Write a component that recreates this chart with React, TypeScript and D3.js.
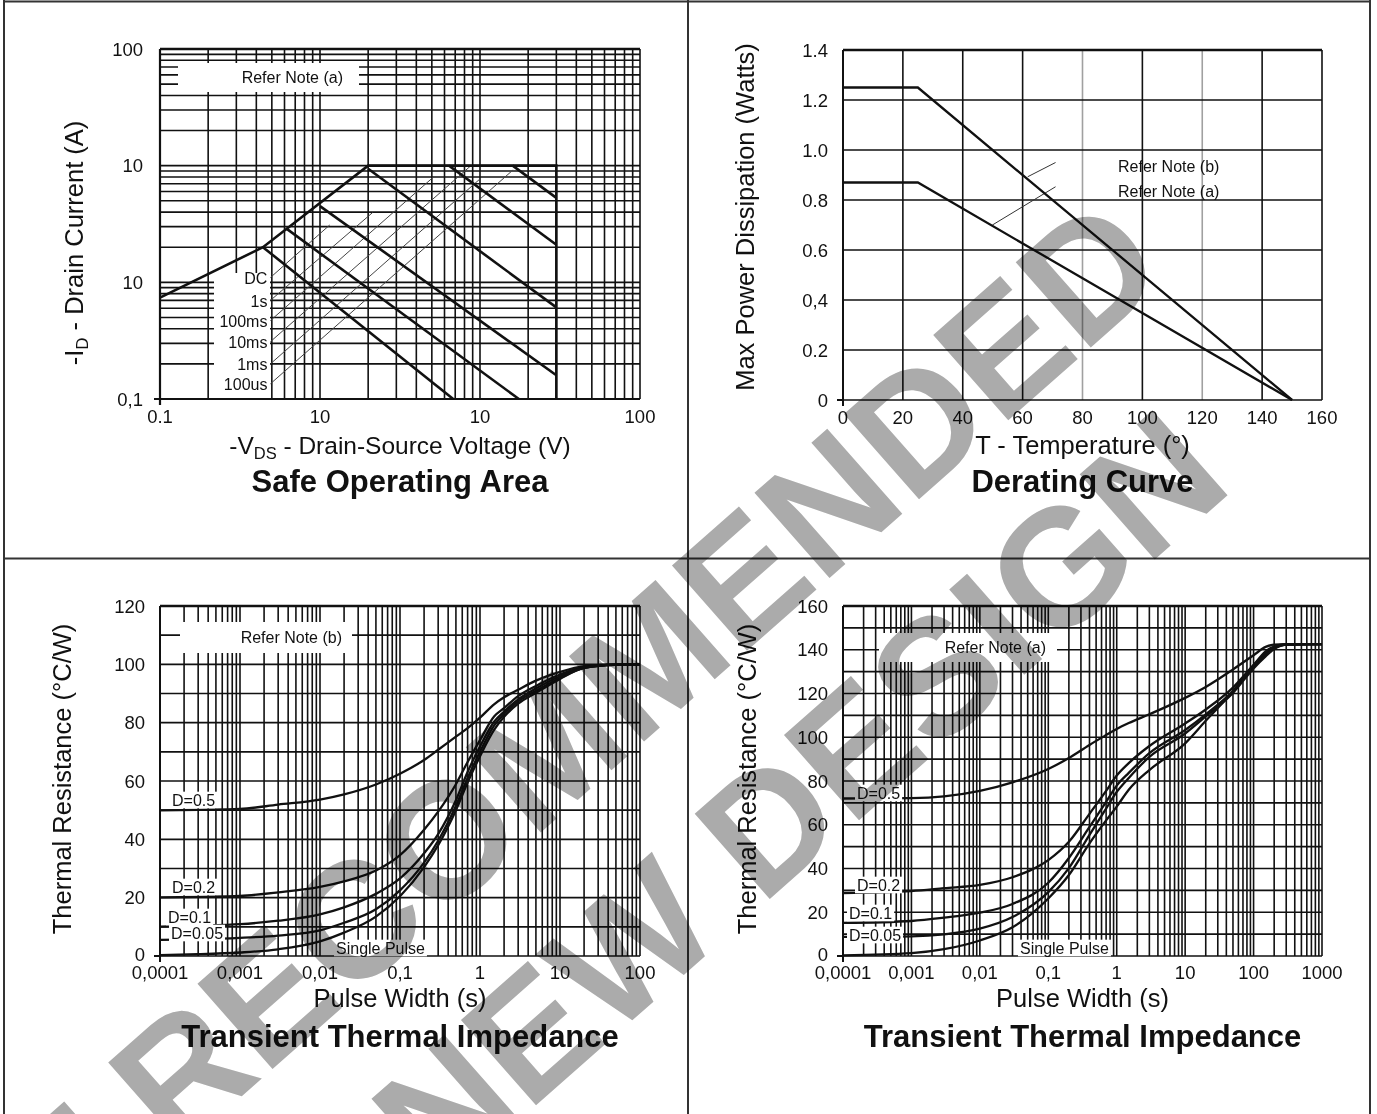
import React from "react";
import * as d3 from "d3";

type Pt = [number, number];

// ---- Safe Operating Area (log / log) ----
const soaDecades = [0.1, 1, 10, 100];
const soaXTickText = ["0.1", "10", "10", "100"];
const soaYTickText = ["0,1", "10", "10", "100"];
const soaOutline: Pt[] = [[0.1, 0.74], [0.44, 2.0], [2.0, 10], [30, 10], [30, 0.1]];
const soaPulseNames = ["DC", "1s", "100ms", "10ms", "1ms", "100us"];
const soaPulseLimits: Pt[][] = [
  [[0.44, 2.0], [6.8, 0.1]],
  [[0.62, 2.87], [17.5, 0.1]],
  [[1.0, 4.5], [30, 0.16]],
  [[2.0, 9.4], [30, 0.61]],
  [[6.4, 10], [30, 2.1]],
  [[16, 10], [30, 5.3]],
];
const soaLeaders: Pt[][] = [
  [[0.49, 1.1], [1.15, 3.1]],
  [[0.49, 0.7], [2.13, 3.96]],
  [[0.49, 0.47], [5.1, 7.96]],
  [[0.49, 0.31], [8.7, 9.9]],
  [[0.49, 0.2], [10, 7.7]],
  [[0.49, 0.135], [16.1, 9.2]],
];

// ---- Derating curve ----
const deratingTemps = [0, 20, 40, 60, 80, 100, 120, 140, 160];
const deratingGreyTemps = [80, 120];
const deratingWatts = [0, 0.2, 0.4, 0.6, 0.8, 1.0, 1.2, 1.4];
const deratingWattText = ["0", "0.2", "0,4", "0.6", "0.8", "1.0", "1.2", "1.4"];
const deratingNoteB: Pt[] = [[0, 1.25], [25, 1.25], [150, 0]];
const deratingNoteA: Pt[] = [[0, 0.87], [25, 0.87], [150, 0]];
const deratingLeaderB: Pt[] = [[71, 0.95], [61.7, 0.893]];
const deratingLeaderA: Pt[] = [[71, 0.853], [49.9, 0.7]];

// ---- Transient thermal impedance, note (b) ----
const dutyNames = ["D=0.5", "D=0.2", "D=0.1", "D=0.05", "Single Pulse"];
const pulseDecadesB = [1e-4, 1e-3, 0.01, 0.1, 1, 10, 100];
const pulseTextB = ["0,0001", "0,001", "0,01", "0,1", "1", "10", "100"];
const resistanceTicksB = [0, 20, 40, 60, 80, 100, 120];
const pulseWidthsB = [1e-4, 3e-4, 1e-3, 3e-3, 0.01, 0.02, 0.05, 0.1, 0.2, 0.3, 0.5, 0.7, 1, 1.5, 2, 3, 5, 10, 20, 50, 100];
const impedanceB_D05 = [49.9, 50.1, 50.4, 51.9, 53.6, 55.4, 58.8, 62.5, 67.2, 70.7, 75.2, 78.1, 81.7, 86.3, 88.7, 91.3, 94.4, 97.4, 99.4, 100, 100];
const impedanceB_D02 = [20.1, 20.3, 20.6, 21.8, 23.7, 25.6, 29.3, 34.6, 43.3, 49.5, 58.9, 66.5, 74, 82.1, 85, 89.1, 92.6, 96.5, 99.1, 99.9, 100];
const impedanceB_D01 = [10.1, 10.4, 10.9, 12.1, 14.3, 16.7, 21.3, 26.6, 35.2, 41.8, 53.4, 63.1, 71.8, 80.3, 83.8, 88, 91.7, 95.9, 98.8, 99.8, 100];
const impedanceB_D005 = [5.5, 5.7, 6.2, 7.0, 8.8, 11.4, 16, 22.5, 32, 39.5, 51.5, 61, 70, 79, 83, 87.3, 90.9, 95.3, 98.8, 99.9, 100];
const impedanceB_Single = [0.3, 0.6, 1.2, 2.3, 5, 8, 13.5, 20.5, 30.5, 38, 50, 59.5, 68.5, 77.5, 82, 86.5, 90.2, 95, 98.8, 99.8, 100];

// ---- Transient thermal impedance, note (a) ----
const pulseDecadesA = [1e-4, 1e-3, 0.01, 0.1, 1, 10, 100, 1000];
const pulseTextA = ["0,0001", "0,001", "0,01", "0,1", "1", "10", "100", "1000"];
const resistanceTicksA = [0, 20, 40, 60, 80, 100, 120, 140, 160];
const pulseWidthsA = [1e-4, 1e-3, 0.003, 0.01, 0.03, 0.1, 0.2, 0.4, 0.7, 1, 1.5, 3, 10, 20, 50, 100, 150, 200, 300, 1000];
const impedanceA_D05 = [72, 72.2, 73, 75.5, 79.4, 85.5, 90.5, 96.5, 101, 103.8, 106.5, 110.5, 118, 123, 131, 137.5, 141.3, 142.3, 142.6, 142.6];
const impedanceA_D02 = [28.8, 29.7, 31, 32.5, 36, 43.8, 52.2, 65, 75.5, 82.5, 88.2, 96, 106.3, 112.7, 122.7, 133, 138.5, 141, 142.4, 142.6];
const impedanceA_D01 = [15.1, 16, 17.5, 19.8, 23.8, 33.5, 44.8, 59, 70.5, 77.9, 83.7, 92.7, 103.3, 110.5, 121.1, 132.3, 137.7, 140.8, 142.3, 142.6];
const impedanceA_D005 = [8.7, 9, 9.9, 12.5, 17.8, 29.2, 40.2, 55.4, 67.4, 75, 81.4, 91, 101.7, 109.5, 120.3, 131.5, 137, 140.3, 142.3, 142.6];
const impedanceA_Single = [0.3, 1.3, 3.1, 7.1, 13.1, 26.3, 37, 51.5, 62, 68.3, 76, 85, 97.2, 107.5, 121, 133, 139.3, 141.5, 142.5, 142.6];

const FONT = "'Liberation Sans', Arial, Helvetica, sans-serif";
const INK = "#111";
const GRID_W = 1.6;
const CURVE_W = 2.6;
const SMALL = 16;
const TICK = 18.5;
const AXIS = 25.5;
const TITLE = 31;

function textWidth(s: string, size: number, weight = "normal") {
  const ctx = document.createElement("canvas").getContext("2d");
  if (!ctx) return s.length * size * 0.55;
  ctx.font = `${weight} ${size}px ${FONT}`;
  return ctx.measureText(s).width;
}

function BoxedLabel({ x, y, text, size = SMALL }: { x: number; y: number; text: string; size?: number }) {
  const w = textWidth(text, size);
  return (
    <g>
      <rect x={x - 2} y={y - size * 0.52} width={w + 4} height={size * 1.04} fill="#fff" />
      <text x={x} y={y} dominantBaseline="central" fontSize={size} fill={INK}>{text}</text>
    </g>
  );
}

function SoaChart() {
  const left = 160, right = 640, top = 49, bottom = 399;
  const x = d3.scaleLog().domain([0.1, 100]).range([left, right]);
  const y = d3.scaleLog().domain([0.1, 100]).range([bottom, top]);
  const line = d3.line<Pt>().x(d => x(d[0])).y(d => y(d[1]));
  return (
    <g>
      {x.ticks().map((v, i) => (
        <line key={"v" + i} x1={x(v)} x2={x(v)} y1={bottom} y2={top} stroke={INK} strokeWidth={GRID_W} />
      ))}
      {y.ticks().map((v, i) => (
        <line key={"h" + i} x1={left} x2={right} y1={y(v)} y2={y(v)} stroke={INK} strokeWidth={GRID_W} />
      ))}
      <line x1={left} x2={right} y1={bottom} y2={bottom} stroke={INK} strokeWidth={2.2} />
      <line x1={left} x2={left} y1={bottom + 6} y2={top} stroke={INK} strokeWidth={2.2} />
      <line x1={left - 6} x2={left} y1={bottom} y2={bottom} stroke={INK} strokeWidth={2} />
      <line x1={left} x2={right} y1={top} y2={top} stroke={INK} strokeWidth={2.4} />

      <rect x={left + 18} y={top + 14} width={181} height={29} fill="#fff" />
      <text x={left + 183} y={top + 28.5} textAnchor="end" dominantBaseline="central" fontSize={SMALL} fill={INK}>Refer Note (a)</text>
      <rect x={left + 54} y={273} width={56} height={bottom - 274} fill="#fff" />

      {soaLeaders.map((d, i) => (
        <path key={"l" + i} d={line(d) || ""} fill="none" stroke="#444" strokeWidth={1} />
      ))}
      {soaPulseLimits.map((d, i) => (
        <path key={"p" + i} d={line(d) || ""} fill="none" stroke={INK} strokeWidth={CURVE_W} />
      ))}
      <path d={line(soaOutline) || ""} fill="none" stroke={INK} strokeWidth={CURVE_W} strokeLinejoin="miter" />
      {soaPulseNames.map((n, i) => (
        <text key={"n" + i} x={x(soaLeaders[i][0][0]) - 3} y={y(soaLeaders[i][0][1]) + 1} textAnchor="end"
          dominantBaseline="central" fontSize={SMALL} fill={INK}>{n}</text>
      ))}

      {soaDecades.map((v, i) => (
        <text key={"xt" + i} x={x(v)} y={bottom + 24} textAnchor="middle" fontSize={TICK} fill={INK}>{soaXTickText[i]}</text>
      ))}
      {soaDecades.map((v, i) => (
        <text key={"yt" + i} x={left - 17} y={y(v)} textAnchor="end" dominantBaseline="central" fontSize={TICK} fill={INK}>{soaYTickText[i]}</text>
      ))}
      <text transform="translate(83,243) rotate(-90)" textAnchor="middle" fontSize={AXIS} fill={INK}>
        -I<tspan fontSize={17} dy={5}>D</tspan><tspan dy={-5}> - Drain Current (A)</tspan>
      </text>
      <text x={(left + right) / 2} y={454} textAnchor="middle" fontSize={24.5} fill={INK}>
        -V<tspan fontSize={16.5} dy={5}>DS</tspan><tspan dy={-5}> - Drain-Source Voltage (V)</tspan>
      </text>
      <text x={(left + right) / 2} y={492} textAnchor="middle" fontSize={TITLE} fontWeight="bold" fill={INK}>Safe Operating Area</text>
    </g>
  );
}

function DeratingChart() {
  const left = 843, right = 1322, top = 50, bottom = 400;
  const x = d3.scaleLinear().domain([0, 160]).range([left, right]);
  const y = d3.scaleLinear().domain([0, 1.4]).range([bottom, top]);
  const line = d3.line<Pt>().x(d => x(d[0])).y(d => y(d[1]));
  return (
    <g>
      {deratingTemps.map((t, i) => (
        <line key={"v" + i} x1={x(t)} x2={x(t)} y1={bottom} y2={top}
          stroke={deratingGreyTemps.includes(t) ? "#a0a0a0" : INK} strokeWidth={GRID_W} />
      ))}
      {deratingWatts.map((w, i) => (
        <line key={"h" + i} x1={left} x2={right} y1={y(w)} y2={y(w)} stroke={INK} strokeWidth={i === deratingWatts.length - 1 ? 2.6 : GRID_W} />
      ))}
      <line x1={left} x2={left} y1={bottom + 6} y2={top} stroke={INK} strokeWidth={2} />
      <line x1={left - 6} x2={left} y1={bottom} y2={bottom} stroke={INK} strokeWidth={2} />
      <path d={line(deratingLeaderB) || ""} fill="none" stroke="#333" strokeWidth={1} />
      <path d={line(deratingLeaderA) || ""} fill="none" stroke="#333" strokeWidth={1} />
      <path d={line(deratingNoteB) || ""} fill="none" stroke={INK} strokeWidth={2.3} />
      <path d={line(deratingNoteA) || ""} fill="none" stroke={INK} strokeWidth={2.3} />
      <text x={1118} y={166} dominantBaseline="central" fontSize={SMALL} fill={INK}>Refer Note (b)</text>
      <text x={1118} y={191} dominantBaseline="central" fontSize={SMALL} fill={INK}>Refer Note (a)</text>

      {deratingTemps.map((t, i) => (
        <text key={"xt" + i} x={x(t)} y={bottom + 24} textAnchor="middle" fontSize={TICK} fill={INK}>{t}</text>
      ))}
      {deratingWatts.map((w, i) => (
        <text key={"yt" + i} x={left - 15} y={y(w)} textAnchor="end" dominantBaseline="central" fontSize={TICK} fill={INK}>{deratingWattText[i]}</text>
      ))}
      <text transform="translate(754,217) rotate(-90)" textAnchor="middle" fontSize={AXIS} fill={INK}>Max Power Dissipation (Watts)</text>
      <text x={(left + right) / 2} y={454} textAnchor="middle" fontSize={AXIS} fill={INK}>T - Temperature (°)</text>
      <text x={(left + right) / 2} y={492} textAnchor="middle" fontSize={TITLE} fontWeight="bold" fill={INK}>Derating Curve</text>
    </g>
  );
}

type ThermalProps = {
  left: number; right: number; top: number; bottom: number;
  decades: number[]; decadeText: string[]; yTicks: number[];
  widths: number[]; series: number[][];
  note: string; noteBox: [number, number, number, number]; noteTextX: number;
  labelSpots: Pt[]; titleX: number;
};

function ThermalChart(p: ThermalProps) {
  const x = d3.scaleLog().domain([p.decades[0], p.decades[p.decades.length - 1]]).range([p.left, p.right]);
  const yMax = p.yTicks[p.yTicks.length - 1];
  const y = d3.scaleLinear().domain([0, yMax]).range([p.bottom, p.top]);
  const line = d3.line<number>().x((_, i) => x(p.widths[i])).y(v => y(v)).curve(d3.curveMonotoneX);
  const gridRes = d3.range(0, yMax + 1, 10);
  const [bx, by, bw, bh] = p.noteBox;
  const mid = (p.left + p.right) / 2;
  return (
    <g>
      {x.ticks().map((v, i) => (
        <line key={"v" + i} x1={x(v)} x2={x(v)} y1={p.bottom} y2={p.top} stroke={INK} strokeWidth={GRID_W} />
      ))}
      {gridRes.map((v, i) => (
        <line key={"h" + i} x1={p.left} x2={p.right} y1={y(v)} y2={y(v)} stroke={INK} strokeWidth={GRID_W} />
      ))}
      <line x1={p.left} x2={p.right} y1={p.top} y2={p.top} stroke={INK} strokeWidth={2.4} />
      <line x1={p.left} x2={p.left} y1={p.bottom + 6} y2={p.top} stroke={INK} strokeWidth={2} />
      <line x1={p.left - 6} x2={p.left} y1={p.bottom} y2={p.bottom} stroke={INK} strokeWidth={2} />
      <rect x={bx} y={by} width={bw} height={bh} fill="#fff" />
      <text x={p.noteTextX} y={by + bh / 2} textAnchor="end" dominantBaseline="central" fontSize={SMALL} fill={INK}>{p.note}</text>
      {p.series.map((s, i) => (
        <path key={"c" + i} d={line(s) || ""} fill="none" stroke={INK} strokeWidth={2.3} />
      ))}
      {dutyNames.map((n, i) => (
        <BoxedLabel key={"d" + i} x={p.labelSpots[i][0]} y={p.labelSpots[i][1]} text={n} />
      ))}
      {p.decades.map((v, i) => (
        <text key={"xt" + i} x={x(v)} y={p.bottom + 23} textAnchor="middle" fontSize={TICK} fill={INK}>{p.decadeText[i]}</text>
      ))}
      {p.yTicks.map((v, i) => (
        <text key={"yt" + i} x={p.left - 15} y={y(v) - (v === 0 ? 2 : 0)} textAnchor="end" dominantBaseline="central" fontSize={TICK} fill={INK}>{v}</text>
      ))}
      <text transform={`translate(${p.titleX},779) rotate(-90)`} textAnchor="middle" fontSize={AXIS} fill={INK}>Thermal Resistance (°C/W)</text>
      <text x={mid} y={1007} textAnchor="middle" fontSize={AXIS} fill={INK}>Pulse Width (s)</text>
      <text x={mid} y={1047} textAnchor="middle" fontSize={TITLE} fontWeight="bold" fill={INK}>Transient Thermal Impedance</text>
    </g>
  );
}

function Watermark() {
  const style = { mixBlendMode: "multiply" as const };
  return (
    <g style={style} fill="#ababab" fontSize={165} fontWeight="bold" fontFamily={FONT}>
      <text transform="translate(1172,276) rotate(-41.4)" textAnchor="end">NOT RECOMMENDED</text>
      <text transform="translate(1236,488) rotate(-41.4)" textAnchor="end">FOR NEW DESIGN</text>
    </g>
  );
}

export default function App() {
  const W = 1377, H = 1114;
  return (
    <svg width={W} height={H} style={{ position: "absolute", left: 0, top: 0, background: "#fff" }}
      fontFamily={FONT}>
      <rect x={0} y={0} width={W} height={H} fill="#fff" />
      <SoaChart />
      <DeratingChart />
      <ThermalChart left={160} right={640} top={606} bottom={956}
        decades={pulseDecadesB} decadeText={pulseTextB} yTicks={resistanceTicksB}
        widths={pulseWidthsB}
        series={[impedanceB_D05, impedanceB_D02, impedanceB_D01, impedanceB_D005, impedanceB_Single]}
        note="Refer Note (b)" noteBox={[180, 622, 172, 31]} noteTextX={342}
        labelSpots={[[172, 800], [172, 887], [168, 917], [171, 933], [336, 948]]} titleX={71} />
      <ThermalChart left={843} right={1322} top={606} bottom={956}
        decades={pulseDecadesA} decadeText={pulseTextA} yTicks={resistanceTicksA}
        widths={pulseWidthsA}
        series={[impedanceA_D05, impedanceA_D02, impedanceA_D01, impedanceA_D005, impedanceA_Single]}
        note="Refer Note (a)" noteBox={[879, 633, 178, 29]} noteTextX={1046}
        labelSpots={[[857, 793], [857, 885], [849, 913], [849, 935], [1020, 948]]} titleX={756} />
      <g stroke="#333" strokeWidth={2}>
        <line x1={4} x2={4} y1={0} y2={H} />
        <line x1={1370} x2={1370} y1={0} y2={H} />
        <line x1={4} x2={1370} y1={1.5} y2={1.5} />
        <line x1={688} x2={688} y1={0} y2={H} />
        <line x1={4} x2={1370} y1={558.5} y2={558.5} />
      </g>
      <Watermark />
    </svg>
  );
}
